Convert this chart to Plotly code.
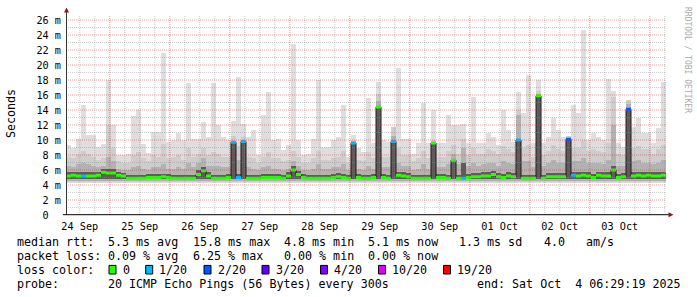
import datetime as dt
import plotly.graph_objects as go

# ---------------- data ----------------
start_time = dt.datetime(2025, 9, 24, 6, 29, 19)
step_hours = 2  # each column = 2 hours, 120 columns = 10 days

# top of the lightest smoke (max ping), ms
smoke_max = [9.3, 9.0, 10.1, 14.7, 10.7, 10.7, 9.1, 9.5, 18.0, 12.0,
             8.0, 8.0, 8.2, 13.2, 14.0, 9.5, 8.3, 11.1, 11.1, 21.6,
             9.8, 10.0, 10.9, 10.0, 17.6, 10.1, 10.1, 12.4, 10.4, 17.6,
             12.0, 10.4, 10.0, 12.6, 18.4, 12.2, 10.4, 11.3, 8.0, 13.3,
             16.4, 10.0, 10.2, 8.7, 9.3, 22.8, 10.0, 8.0, 8.2, 10.2,
             18.0, 9.1, 9.1, 10.0, 10.4, 14.7, 7.8, 10.7, 8.9, 8.4,
             15.6, 9.6, 17.8, 10.0, 9.8, 11.8, 19.6, 10.2, 10.2, 8.2,
             9.6, 15.0, 9.6, 14.0, 9.6, 9.6, 13.3, 12.0, 12.0, 12.2,
             9.6, 15.8, 9.6, 9.6, 10.9, 10.4, 9.3, 14.0, 11.3, 9.8,
             16.4, 13.6, 18.7, 9.6, 18.0, 9.6, 10.4, 12.9, 11.3, 10.4,
             10.6, 14.7, 13.6, 24.7, 10.0, 10.9, 10.4, 10.0, 18.2, 16.6,
             9.6, 9.1, 15.4, 11.8, 13.0, 10.9, 10.9, 9.6, 11.6, 17.8]

# top of the medium smoke, ms
smoke_mid = [7.8, 7.6, 8.2, 8.6, 8.2, 7.8, 7.4, 7.6, 12.0, 9.0,
             7.2, 7.0, 7.0, 8.0, 8.4, 7.6, 7.2, 8.0, 7.8, 9.5,
             7.6, 7.8, 8.0, 7.4, 9.0, 7.8, 8.2, 9.0, 8.0, 8.4,
             8.2, 7.8, 7.8, 10.6, 9.2, 10.4, 7.8, 7.6, 7.0, 7.8,
             8.4, 7.6, 7.6, 7.2, 7.4, 8.6, 7.8, 7.0, 7.0, 7.6,
             8.6, 7.4, 7.4, 7.6, 7.8, 8.6, 7.0, 10.0, 7.4, 7.2,
             8.4, 7.6, 16.2, 7.8, 7.8, 11.8, 9.0, 8.0, 8.0, 7.2,
             7.6, 8.6, 7.6, 10.0, 7.8, 7.8, 8.6, 9.4, 8.2, 10.2,
             8.0, 9.0, 8.2, 8.2, 8.8, 8.6, 8.2, 9.2, 8.8, 8.4,
             14.0, 9.0, 9.4, 7.8, 16.6, 8.0, 8.6, 9.4, 8.8, 8.6,
             10.6, 9.0, 9.0, 10.0, 8.6, 8.8, 8.6, 8.4, 9.6, 15.8,
             8.2, 8.0, 15.3, 9.0, 9.2, 8.8, 8.8, 8.2, 8.8, 9.4]

# top of the dark smoke, ms
smoke_dark = [6.6, 6.4, 6.8, 7.0, 6.8, 6.6, 6.4, 6.6, 7.8, 7.2,
              6.2, 6.0, 6.0, 6.4, 6.6, 6.2, 6.0, 6.4, 6.4, 6.8,
              6.2, 6.2, 6.4, 6.2, 7.0, 6.4, 7.0, 7.6, 6.6, 6.6,
              6.6, 6.4, 6.4, 9.7, 7.4, 9.8, 6.4, 6.2, 6.0, 6.4,
              6.6, 6.2, 6.2, 6.0, 6.2, 7.2, 6.6, 6.0, 6.0, 6.2,
              6.8, 6.2, 6.2, 6.4, 6.4, 6.8, 6.0, 9.6, 6.2, 6.0,
              6.6, 6.2, 15.2, 6.4, 6.4, 10.6, 7.0, 6.6, 6.6, 6.0,
              6.2, 6.8, 6.2, 9.6, 6.4, 6.4, 6.8, 8.2, 6.8, 9.0,
              6.6, 7.0, 6.6, 6.8, 7.0, 7.0, 6.6, 7.2, 7.0, 6.8,
              13.4, 7.2, 7.2, 6.4, 16.0, 6.6, 7.0, 7.4, 7.0, 7.0,
              10.3, 7.2, 7.2, 7.6, 7.0, 7.0, 7.0, 6.8, 7.4, 12.0,
              6.6, 6.6, 14.8, 7.2, 7.4, 7.0, 7.0, 6.8, 7.0, 7.4]

# top of the darkest smoke core, ms
smoke_core = [5.7, 5.7, 5.7, 5.7, 5.7, 5.7, 5.7, 6.2, 6.1, 6.1,
              5.7, 5.6, 5.4, 5.4, 5.4, 5.4, 5.5, 5.5, 5.5, 5.5,
              5.5, 5.4, 5.4, 5.4, 5.4, 5.4, 6.0, 6.4, 5.7, 5.4,
              5.4, 5.4, 5.5, 9.7, 5.5, 9.8, 5.4, 5.4, 5.4, 5.5,
              5.5, 5.5, 5.5, 5.4, 5.7, 6.5, 5.9, 5.5, 5.4, 5.4,
              5.4, 5.4, 5.4, 5.5, 5.6, 5.5, 5.4, 9.6, 5.5, 5.4,
              5.4, 5.5, 14.4, 5.5, 5.4, 9.8, 5.8, 5.7, 5.6, 5.4,
              5.4, 5.4, 5.4, 9.6, 5.5, 5.5, 5.4, 7.3, 5.4, 7.0,
              5.5, 5.6, 5.6, 5.7, 5.7, 5.9, 5.6, 5.5, 5.7, 5.6,
              10.0, 5.4, 5.4, 5.4, 15.9, 5.4, 5.6, 5.6, 5.6, 5.6,
              10.1, 5.8, 5.7, 5.8, 5.7, 5.5, 5.8, 5.7, 5.7, 6.5,
              5.5, 5.6, 14.1, 5.7, 5.8, 5.7, 5.8, 5.7, 5.7, 5.8]

# bottom of each smoke band, ms (lightest -> darkest)
smoke_floor = [4.25, 4.4, 4.55, 4.75]

# median rtt, ms
median_ms = [5.2, 5.3, 5.2, 5.2, 5.2, 5.2, 5.3, 5.7, 5.6, 5.6,
             5.3, 5.2, 4.9, 4.9, 4.9, 4.9, 5.0, 5.0, 5.0, 5.1,
             5.0, 4.9, 4.9, 4.9, 4.9, 4.9, 5.4, 5.9, 5.2, 4.9,
             4.9, 4.9, 5.0, 9.7, 5.0, 9.8, 4.9, 4.9, 4.9, 5.0,
             5.0, 5.0, 5.0, 4.9, 5.2, 6.0, 5.4, 5.0, 4.9, 4.9,
             4.9, 4.9, 4.9, 5.0, 5.1, 5.0, 4.9, 9.6, 5.0, 4.9,
             4.9, 5.0, 14.4, 5.0, 4.9, 9.8, 5.3, 5.2, 5.1, 4.9,
             4.9, 4.9, 4.9, 9.6, 5.0, 5.0, 4.9, 7.3, 4.9, 4.9,
             5.0, 5.1, 5.1, 5.2, 5.2, 5.4, 5.1, 5.0, 5.2, 5.1,
             10.0, 4.9, 4.9, 4.9, 15.9, 4.9, 5.1, 5.1, 5.1, 5.1,
             10.1, 5.3, 5.2, 5.3, 5.2, 5.0, 5.3, 5.2, 5.2, 6.0,
             5.0, 5.1, 14.1, 5.2, 5.3, 5.2, 5.3, 5.2, 5.2, 5.3]

# lost pings (of 20) per column
loss_pings = [0, 0, 0, 1, 0, 0, 0, 0, 0, 0,
              0, 0, 0, 0, 0, 0, 0, 0, 0, 0,
              0, 0, 0, 0, 0, 0, 0, 0, 0, 0,
              0, 0, 0, 1, 1, 1, 0, 0, 0, 0,
              0, 0, 0, 0, 0, 0, 0, 0, 0, 0,
              0, 0, 0, 0, 0, 0, 0, 1, 0, 0,
              0, 0, 0, 0, 0, 1, 0, 0, 0, 0,
              0, 0, 0, 0, 0, 0, 0, 0, 0, 1,
              0, 0, 0, 0, 0, 0, 0, 0, 0, 0,
              1, 0, 0, 0, 0, 0, 0, 0, 0, 0,
              2, 1, 0, 0, 0, 0, 0, 0, 0, 0,
              0, 0, 2, 0, 0, 0, 0, 0, 0, 0]

loss_levels = [0, 1, 2, 3, 4, 10, 19]
loss_labels = ["0", "1/20", "2/20", "3/20", "4/20", "10/20", "19/20"]
loss_colors = ["#26ff00", "#00b8ff", "#0059ff", "#5e00ff", "#7e00ff", "#dd00ff", "#ff0000"]

ytick_vals = [0, 2, 4, 6, 8, 10, 12, 14, 16, 18, 20, 22, 24, 26]
ytick_text = ["0\u00a0\u00a0", "2 m", "4 m", "6 m", "8 m", "10 m", "12 m", "14 m",
              "16 m", "18 m", "20 m", "22 m", "24 m", "26 m"]

legend_rows = [
    [("median rtt:", 16), ("5.3 ms avg", 107.3), ("15.8 ms max", 191.5), ("4.8 ms min", 282.8),
     ("5.1 ms now", 367), ("1.3 ms sd", 458.3), ("4.0", 542.5), ("am/s", 584.6)],
    [("packet loss:", 16), ("0.09 % avg", 107.3), ("6.25 % max", 191.5), ("0.00 % min", 282.8),
     ("0.00 % now", 367)],
]
probe_text = "20 ICMP Echo Pings (56 Bytes) every 300s"
end_text = "end: Sat Oct\u00a0 4 06:29:19 2025"

# ---------------- layout constants ----------------
W, H = 697, 297
L, R, T, B = 66, 31, 15, 82
PW, PH = W - L - R, H - T - B
MONO = "DejaVu Sans Mono"


def px(x):
    return (x - L) / PW


def py(y):
    return (H - B - y) / PH


n = len(median_ms)
step = dt.timedelta(hours=step_hours)
starts = [start_time + step * i for i in range(n)]
centers = [s + step / 2 for s in starts]
end_time = start_time + step * n

fig = go.Figure()

band_colors = ["#dedede", "#cdcdcd", "#b2b2b2", "#5c5c5c"]
for top, floor, color in zip([smoke_max, smoke_mid, smoke_dark, smoke_core], smoke_floor, band_colors):
    fig.add_trace(go.Bar(x=centers, y=[v - floor for v in top], base=floor,
                         width=step_hours * 3600 * 1000,
                         marker=dict(color=color, line=dict(width=0)),
                         hoverinfo="skip"))

# median: dark step line, then loss-coloured horizontal parts
fig.add_trace(go.Scatter(x=starts + [end_time], y=median_ms + [median_ms[-1]], mode="lines",
                         line=dict(color="#1a1a1a", width=1, shape="hv"), hoverinfo="skip"))
for lvl, col in zip(loss_levels, loss_colors):
    xs, ys = [], []
    for i in range(n):
        if loss_pings[i] == lvl:
            xs += [starts[i], starts[i] + step, None]
            ys += [median_ms[i], median_ms[i], None]
    if xs:
        fig.add_trace(go.Scatter(x=xs, y=ys, mode="lines", line=dict(color=col, width=3),
                                 hoverinfo="skip"))

shapes = []
# grid (drawn above the smoke like rrdtool)
major_col = "rgba(210,40,40,0.45)"
minor_col = "rgba(140,140,140,0.45)"
t = dt.datetime(2025, 9, 24, 12, 0, 0)
while t < end_time:
    shapes.append(dict(type="line", xref="x", yref="paper", x0=t, x1=t, y0=0, y1=1, layer="above",
                       line=dict(color=major_col if t.hour == 0 else minor_col, width=1, dash="1px,1px")))
    t += dt.timedelta(hours=6)
for v in range(1, 27):
    shapes.append(dict(type="line", xref="paper", yref="y", x0=0, x1=1, y0=v, y1=v, layer="above",
                       line=dict(color=major_col if v % 2 == 0 else minor_col, width=1, dash="1px,1px")))

# axes with arrows
axis_col = "#333333"
arrow_col = "#8b1a1a"
shapes.append(dict(type="line", xref="paper", yref="paper", x0=px(66.5), x1=px(66.5), y0=py(215), y1=py(12),
                   line=dict(color=axis_col, width=1), layer="above"))
shapes.append(dict(type="line", xref="paper", yref="paper", x0=px(63), x1=px(669), y0=py(214.7), y1=py(214.7),
                   line=dict(color="#000000", width=1), layer="above"))
shapes.append(dict(type="path", xref="paper", yref="paper", layer="above",
                   path=f"M {px(64.0)},{py(12.5)} L {px(66.5)},{py(7.5)} L {px(69.0)},{py(12.5)} Z",
                   fillcolor=arrow_col, line=dict(width=0)))
shapes.append(dict(type="path", xref="paper", yref="paper", layer="above",
                   path=f"M {px(668.5)},{py(212.2)} L {px(673.5)},{py(214.7)} L {px(668.5)},{py(217.2)} Z",
                   fillcolor=arrow_col, line=dict(width=0)))

annotations = []


def text(s, x, y, size=11.66, anchor="left", color="black", angle=0):
    annotations.append(dict(text=s, x=px(x), y=py(y), xref="paper", yref="paper", showarrow=False,
                            xanchor=anchor, yanchor="middle", borderpad=0, textangle=angle,
                            font=dict(family=MONO, size=size, color=color)))


row_y = [241.7, 255.7, 269.7, 283.7]
for r, row in enumerate(legend_rows):
    for s, x in row:
        text(s, x, row_y[r])
text("loss color:", 16, row_y[2])
box_x = [109, 145.7, 204, 262, 320.5, 378.5, 443.5]
for bx, lab, col in zip(box_x, loss_labels, loss_colors):
    shapes.append(dict(type="rect", xref="paper", yref="paper", x0=px(bx), x1=px(bx + 7),
                       y0=py(row_y[2] + 4.3), y1=py(row_y[2] - 4.3), fillcolor=col,
                       line=dict(color="black", width=1), layer="above"))
    text(lab, bx + 12.5, row_y[2])
text("probe:", 16, row_y[3])
text(probe_text, 107.3, row_y[3])
text(end_text, 682, row_y[3], anchor="right")
text("Seconds", 11, 114, angle=-90, anchor="center")
text("RRDTOOL / TOBI OETIKER", 687, 60, size=8.0, color="#aaaaaa", angle=90, anchor="center")

fig.update_layout(width=W, height=H, margin=dict(l=L, r=R, t=T, b=B, pad=0),
                  paper_bgcolor="white", plot_bgcolor="white", barmode="overlay", bargap=0,
                  showlegend=False, font=dict(family=MONO, color="black"),
                  shapes=shapes, annotations=annotations)
fig.update_xaxes(type="date", range=[start_time, end_time], showgrid=False, zeroline=False,
                 showline=False, ticks="", dtick=86400000, tick0="2025-09-24", tickformat="%d %b",
                 ticklabelmode="period", ticklabelstandoff=4,
                 tickfont=dict(family=MONO, size=10.2, color="black"),
                 automargin=False, fixedrange=True)
fig.update_yaxes(range=[0, 26.6667], showgrid=False, zeroline=False, showline=False,
                 tickmode="array", tickvals=ytick_vals, ticktext=ytick_text, ticks="",
                 ticklabelstandoff=4,
                 tickfont=dict(family=MONO, size=10.2, color="black"), automargin=False, fixedrange=True)

fig.write_html("out.html", config={"displayModeBar": False})
